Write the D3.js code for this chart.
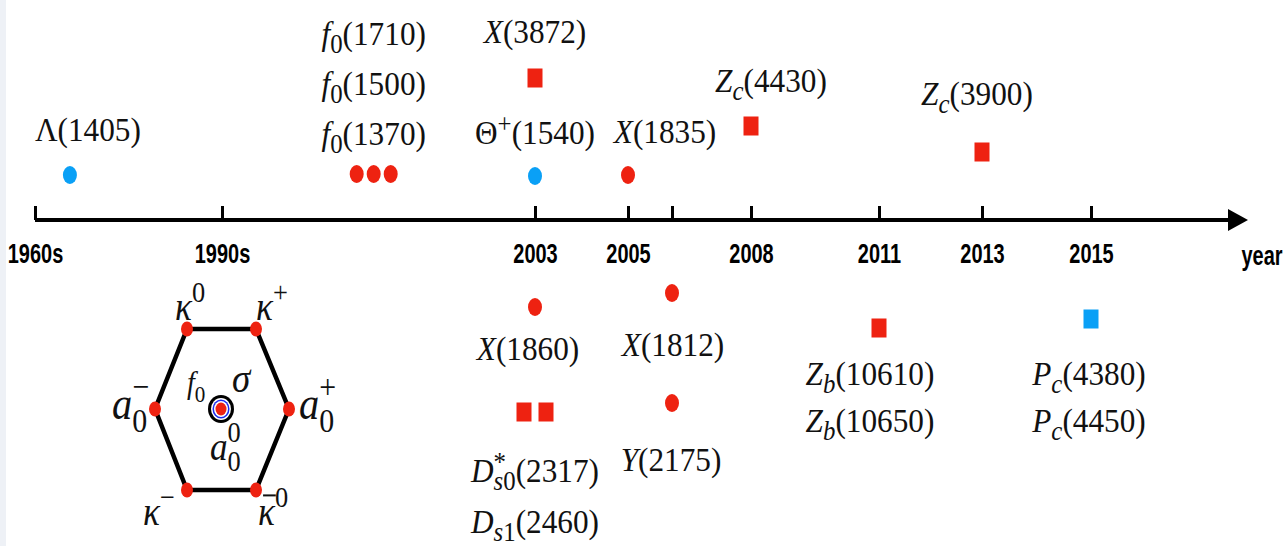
<!DOCTYPE html>
<html>
<head>
<meta charset="utf-8">
<script src="https://cdn.jsdelivr.net/npm/d3@7"></script>
<style>
  html, body { margin: 0; padding: 0; background: #fff; }
  svg { display: block; }
</style>
</head>
<body>
<div id="chart"></div>
<script>
const tickYears = [1960, 1990, 2003, 2005, 2006, 2008, 2011, 2013, 2015];
const tickLabels = ['1960s', '1990s', '2003', '2005', '', '2008', '2011', '2013', '2015'];

// one entry per group of states drawn together
const groupYears = [1965.6, 1996.3, 2003, 2003, 2005, 2008, 2013, 2003, 2003, 2006, 2006, 2011, 2015];
const groupCounts = [1, 3, 1, 1, 1, 1, 1, 1, 2, 1, 1, 1, 1];
const groupHadron = ['baryon', 'meson', 'meson', 'baryon', 'meson', 'meson', 'meson',
  'meson', 'meson', 'meson', 'meson', 'meson', 'baryon'];
const groupFlavor = ['light', 'light', 'heavy', 'light', 'light', 'heavy', 'heavy',
  'light', 'heavy', 'light', 'light', 'heavy', 'heavy'];
const groupLabels = [
  ['Λ(1405)'],
  ['f_0(1710)', 'f_0(1500)', 'f_0(1370)'],
  ['X(3872)'],
  ['Θ^+(1540)'],
  ['X(1835)'],
  ['Z_c(4430)'],
  ['Z_c(3900)'],
  ['X(1860)'],
  ['D^*_{s0}(2317)', 'D_{s1}(2460)'],
  ['X(1812)'],
  ['Y(2175)'],
  ['Z_b(10610)', 'Z_b(10650)'],
  ['P_c(4380)', 'P_c(4450)']
];

// scalar nonet states around the hexagon
const nonetLabels = ['κ^0', 'κ^+', 'a_0^−', 'a_0^+', 'κ^−', 'κ\u0304^0', 'f_0', 'σ', 'a_0^0'];

// ---- layout ----
const width = 1286;
const height = 546;
const axisY = 220;
const tickX = [35, 222, 535, 628, 672, 751, 879, 982, 1091];
const markerY = [175, 174, 78, 176, 175, 126, 152, 307, 412, 293, 403, 328, 319];
const labelDx = [18, 0, 0, 0, 37, 20, -5, -7, 0, 1, -1, -9, -2];
const labelY = [141, 45, 43, 144, 143, 92, 105, 360, 482, 356, 471, 385, 385];
const labelGap = [0, 50, 0, 0, 0, 0, 0, 0, 51, 0, 0, 47, 47];

const nonetX = [175, 256, 112, 299, 143, 258, 187, 232, 210];
const nonetY = [320, 320, 419, 419, 525, 525, 393, 392, 460];
const nonetSize = [40, 40, 46, 46, 40, 40, 32, 42, 40];

const red = '#ee2211';
const blue = '#0aa0f6';
const serif = '"Liberation Serif", "Times New Roman", serif';
const squeeze = 0.92;

const svg = d3.select('#chart')
  .append('svg')
  .attr('width', width)
  .attr('height', height);

svg.append('rect')
  .attr('width', 6)
  .attr('height', height)
  .attr('fill', '#eef1f6');

const x = d3.scaleLinear()
  .domain(tickYears)
  .range(tickX);

const color = d3.scaleOrdinal()
  .domain(['meson', 'baryon'])
  .range([red, blue]);

// write a label with ^ and _ scripts into a text element
function mathText(text, str, o) {
  const tokens = [];
  let i = 0;
  while (i < str.length) {
    const c = str[i];
    if (c === '^' || c === '_') {
      let body;
      if (str[i + 1] === '{') {
        const j = str.indexOf('}', i);
        body = str.slice(i + 2, j);
        i = j + 1;
      } else {
        body = str[i + 1];
        i += 2;
      }
      tokens.push({ text: body, level: c === '^' ? 'sup' : 'sub' });
    } else {
      const last = tokens[tokens.length - 1];
      if (last && last.level === 'base') last.text += c;
      else tokens.push({ text: c, level: 'base' });
      i += 1;
    }
  }

  let shift = 0;
  let prev = null;
  tokens.forEach(t => {
    const target = t.level === 'sup' ? o.sup : t.level === 'sub' ? o.sub : 0;
    const runs = t.text.match(/[A-Za-zκσ]+|[^A-Za-zκσ]+/g);
    let w = 0;
    runs.forEach((r, k) => {
      const span = text.append('tspan')
        .text(r)
        .attr('font-size', t.level === 'base' ? o.size : o.script)
        .attr('font-style', /[A-Za-zκσ]/.test(r) ? 'italic' : 'normal');
      if (target !== shift) {
        span.attr('dy', target - shift);
        shift = target;
      }
      if (k === 0 && prev && prev.level !== 'base' && t.level !== 'base') {
        span.attr('dx', -prev.width);
      }
      w += span.node().getComputedTextLength();
    });
    t.width = w;
    prev = t;
  });
}

// ---- axis ----
const axis = svg.append('g')
  .attr('transform', `translate(0, ${axisY})`)
  .call(d3.axisBottom(x)
    .tickValues(tickYears)
    .tickFormat((d, i) => tickLabels[i])
    .tickSize(-14)
    .tickPadding(24));

axis.select('.domain').remove();
axis.selectAll('.tick line')
  .attr('stroke', '#000')
  .attr('stroke-width', 3);
axis.selectAll('.tick text')
  .attr('fill', '#000')
  .attr('transform', 'scale(0.74, 1)')
  .style('font-family', '"Liberation Sans", Arial, sans-serif')
  .style('font-weight', 'bold')
  .style('font-size', '27px');

svg.append('line')
  .attr('x1', x(tickYears[0]))
  .attr('x2', 1232)
  .attr('y1', axisY)
  .attr('y2', axisY)
  .attr('stroke', '#000')
  .attr('stroke-width', 4);

svg.append('path')
  .attr('d', `M1228,${axisY - 11}L1248,${axisY}L1228,${axisY + 11}Z`)
  .attr('fill', '#000');

svg.append('text')
  .attr('transform', 'translate(1262, 265) scale(0.74, 1)')
  .attr('text-anchor', 'middle')
  .style('font-family', '"Liberation Sans", Arial, sans-serif')
  .style('font-weight', 'bold')
  .style('font-size', '27px')
  .text('year');

// ---- states on the timeline ----
groupYears.forEach((year, g) => {
  const cx = x(year);
  const n = groupCounts[g];
  const heavy = groupFlavor[g] === 'heavy';
  const step = heavy ? 22 : 17;
  const fill = color(groupHadron[g]);

  d3.range(n).forEach(k => {
    const mx = cx + (k - (n - 1) / 2) * step;
    if (heavy) {
      svg.append('rect')
        .attr('x', mx - 7.5)
        .attr('y', markerY[g] - 9.5)
        .attr('width', 15)
        .attr('height', 19)
        .attr('fill', fill);
    } else {
      svg.append('ellipse')
        .attr('cx', mx)
        .attr('cy', markerY[g])
        .attr('rx', 7)
        .attr('ry', 9)
        .attr('fill', fill);
    }
  });

  groupLabels[g].forEach((label, k) => {
    const t = svg.append('text')
      .attr('transform', `translate(${cx + labelDx[g]}, ${labelY[g] + k * labelGap[g]}) scale(${squeeze}, 1)`)
      .attr('text-anchor', 'middle')
      .attr('fill', '#111')
      .style('font-family', serif);
    mathText(t, label, { size: 34, script: 27, sup: -11, sub: 8 });
  });
});

// ---- scalar nonet hexagon ----
const hexCenter = [222, 409];
const hexPts = [[-35, -80], [34, -80], [67, 0], [34, 81], [-35, 81], [-67, 0]]
  .map(p => [hexCenter[0] + p[0], hexCenter[1] + p[1]]);

svg.append('path')
  .attr('d', d3.line()(hexPts) + 'Z')
  .attr('fill', 'none')
  .attr('stroke', '#000')
  .attr('stroke-width', 4.5)
  .attr('stroke-linejoin', 'round');

svg.selectAll('.vertex')
  .data(hexPts)
  .enter()
  .append('ellipse')
  .attr('class', 'vertex')
  .attr('cx', d => d[0])
  .attr('cy', d => d[1])
  .attr('rx', 6)
  .attr('ry', 7.5)
  .attr('fill', red);

[[13, 14, '#000'], [10, 11, '#fff'], [8.5, 9.5, '#1a2cf0'], [7, 8, '#fff'], [5.5, 6.5, red]]
  .forEach(r => {
    svg.append('ellipse')
      .attr('cx', hexCenter[0] - 1)
      .attr('cy', hexCenter[1])
      .attr('rx', r[0])
      .attr('ry', r[1])
      .attr('fill', r[2]);
  });

nonetLabels.forEach((label, i) => {
  const fs = nonetSize[i];
  const g = svg.append('g')
    .attr('transform', `translate(${nonetX[i]}, ${nonetY[i]}) scale(0.88, 1)`);
  const t = g.append('text')
    .attr('fill', '#111')
    .style('font-family', serif);
  const barred = label.includes('\u0304');
  mathText(t, label.replace('\u0304', ''), {
    size: fs,
    script: Math.round(fs * 0.74),
    sup: -Math.round(fs * 0.45),
    sub: Math.round(fs * 0.28)
  });
  if (barred) {
    const ext = t.node().getExtentOfChar(0);
    g.append('line')
      .attr('x1', ext.x + ext.width * 0.3)
      .attr('x2', ext.x + ext.width + 1)
      .attr('y1', -fs * 0.74)
      .attr('y2', -fs * 0.74)
      .attr('stroke', '#111')
      .attr('stroke-width', 2);
  }
});
</script>
</body>
</html>
